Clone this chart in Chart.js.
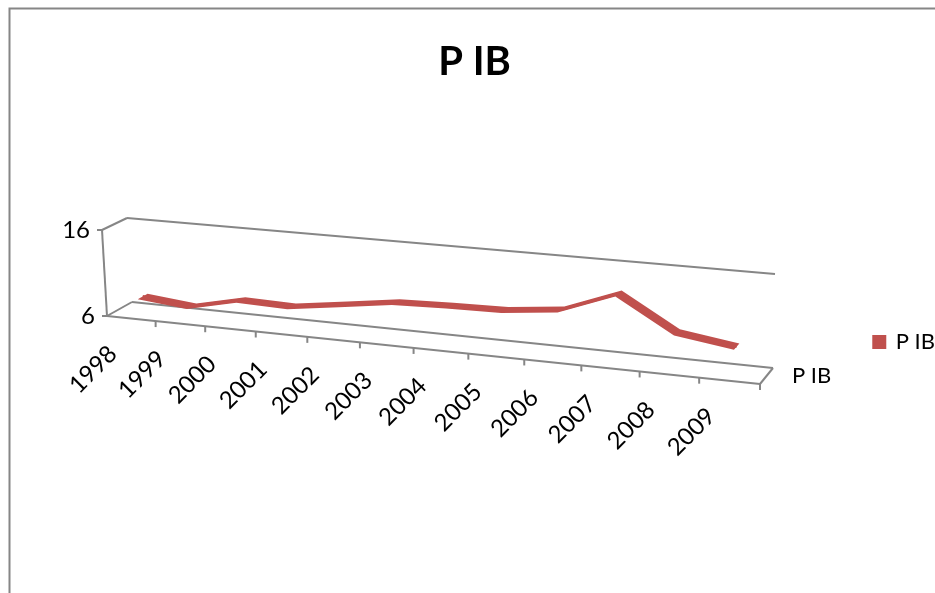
<!DOCTYPE html>
<html lang="pt">

<head>
    <meta charset="UTF-8">
    <title>P IB</title>
    <script src="https://cdn.jsdelivr.net/npm/chart.js"></script>
    <style>
        body { margin: 0; background: #fff; overflow: hidden; }
    </style>
</head>

<body>
    <canvas id="pibGraf" width="935" height="593"></canvas>
    <script>
        const years = ["1998", "1999", "2000", "2001", "2002", "2003", "2004", "2005", "2006", "2007", "2008", "2009"];
        const pib = [7.75, 7.2, 8.5, 8.35, 9.15, 10.0, 10.2, 10.3, 10.95, 13.3, 9.7, 8.8];
        const seriesName = "P IB";
        const yMin = 6;
        const yMax = 16;

        const gray = "#868686";
        const red = "#c0504d";
        const tickFont = "24px Lato";
        const nameFont = "22px Lato";

        function lerp(a, b, t) {
            return a + (b - a) * t;
        }

        // perspective along the axis: categories get wider to the right
        function stretch(u) {
            return u * 0.885 / (1 - 0.115 * u);
        }

        // u = across the axis (0-1), v = height (0-1), d = depth (0 front, 1 back)
        function project(u, v, d) {
            const f = stretch(u);
            const floorX = lerp(107 + 653 * f, 132 + 641 * f, d);
            const floorY = lerp(316 + 68 * f, 302 + 66 * f, d);
            const topX = lerp(102 + 660 * f, 127 + 648 * f, d);
            const topY = lerp(230 + 60 * f, 218 + 56 * f, d);
            return { x: lerp(floorX, topX, v), y: lerp(floorY, topY, v) };
        }

        function chartU(chart, px) {
            return (px - chart.chartArea.left) / chart.chartArea.width;
        }

        function chartV(chart, py) {
            return (chart.chartArea.bottom - py) / chart.chartArea.height;
        }

        function line(ctx, a, b) {
            ctx.beginPath();
            ctx.moveTo(a.x, a.y);
            ctx.lineTo(b.x, b.y);
            ctx.stroke();
        }

        const frame3d = {
            id: "frame3d",
            // sposto i punti della serie nel piano 3d
            afterDatasetsUpdate(chart) {
                chart.getDatasetMeta(0).data.forEach(p => {
                    p.$u = chartU(chart, p.x);
                    p.$v = chartV(chart, p.y);
                    const q = project(p.$u, p.$v, 0.5);
                    p.x = q.x;
                    p.y = q.y;
                });
            },
            beforeDraw(chart) {
                const ctx = chart.ctx;
                const xs = chart.scales.x;
                const ys = chart.scales.y;
                ctx.save();

                // bordo esterno
                ctx.strokeStyle = gray;
                ctx.lineWidth = 2;
                ctx.beginPath();
                ctx.moveTo(9.5, 593);
                ctx.lineTo(9.5, 8.5);
                ctx.lineTo(935, 8.5);
                ctx.stroke();

                // pareti e pavimento
                ctx.lineWidth = 2;
                line(ctx, project(0, 0, 0), project(1, 0, 0));
                line(ctx, project(0, 0, 1), project(1, 0, 1));
                line(ctx, project(0, 1, 1), project(1, 1, 1));
                line(ctx, project(0, 0, 0), project(0, 1, 0));
                line(ctx, project(0, 0, 0), project(0, 0, 1));
                line(ctx, project(0, 1, 0), project(0, 1, 1));
                line(ctx, project(1, 0, 0), project(1, 0, 1));

                // asse y
                ctx.fillStyle = "#000";
                ctx.font = tickFont;
                ctx.textAlign = "right";
                ctx.textBaseline = "middle";
                ys.ticks.forEach(t => {
                    const p = project(0, chartV(chart, ys.getPixelForValue(t.value)), 0);
                    line(ctx, p, { x: p.x - 5, y: p.y });
                    ctx.fillText(t.label, p.x - 12, p.y);
                });

                // asse x
                const step = xs.getPixelForValue(1) - xs.getPixelForValue(0);
                years.forEach((year, i) => {
                    const center = xs.getPixelForValue(i);
                    const edge = project(chartU(chart, center + step / 2), 0, 0);
                    line(ctx, edge, { x: edge.x, y: edge.y + 6 });
                    const p = project(chartU(chart, center), 0, 0);
                    ctx.save();
                    ctx.translate(p.x - 38, p.y + 51);
                    ctx.rotate(-Math.PI / 4);
                    ctx.textAlign = "center";
                    ctx.fillText(year, 0, 0);
                    ctx.restore();
                });

                // nome della serie sull'asse di profondità
                ctx.font = nameFont;
                ctx.textAlign = "left";
                ctx.fillText(seriesName, 792, 376);
                ctx.restore();
            },
            // nastro della serie
            beforeDatasetsDraw(chart) {
                const ctx = chart.ctx;
                const pts = chart.getDatasetMeta(0).data;
                ctx.save();
                ctx.fillStyle = red;
                ctx.beginPath();
                pts.forEach((p, i) => {
                    const q = project(p.$u, p.$v, 0.3);
                    if (i === 0) ctx.moveTo(q.x, q.y);
                    else ctx.lineTo(q.x, q.y);
                });
                pts.slice().reverse().forEach(p => {
                    const q = project(p.$u, p.$v, 0.7);
                    ctx.lineTo(q.x, q.y);
                });
                ctx.closePath();
                ctx.fill();
                ctx.restore();
            }
        };

        new Chart(document.getElementById("pibGraf").getContext("2d"), {
            type: "line",
            data: {
                labels: years,
                datasets: [{
                    label: seriesName,
                    data: pib,
                    borderColor: red,
                    backgroundColor: red,
                    borderWidth: 3,
                    pointRadius: 0,
                    tension: 0,
                    clip: false
                }]
            },
            options: {
                responsive: false,
                animation: false,
                devicePixelRatio: 1,
                layout: { padding: { left: 4, right: -10 } },
                scales: {
                    x: { display: false, type: "category", offset: true },
                    y: { display: false, min: yMin, max: yMax, ticks: { stepSize: yMax - yMin } }
                },
                plugins: {
                    tooltip: { enabled: false },
                    title: {
                        display: true,
                        text: seriesName,
                        color: "#000",
                        font: { family: "Lato", size: 40, weight: "bold" },
                        padding: { top: 38, bottom: 5 }
                    },
                    legend: {
                        position: "right",
                        fullSize: false,
                        labels: {
                            color: "#000",
                            font: { family: "Lato", size: 22 },
                            boxWidth: 11,
                            boxHeight: 11,
                            padding: 2
                        }
                    }
                }
            },
            plugins: [frame3d]
        });
    </script>
</body>

</html>
